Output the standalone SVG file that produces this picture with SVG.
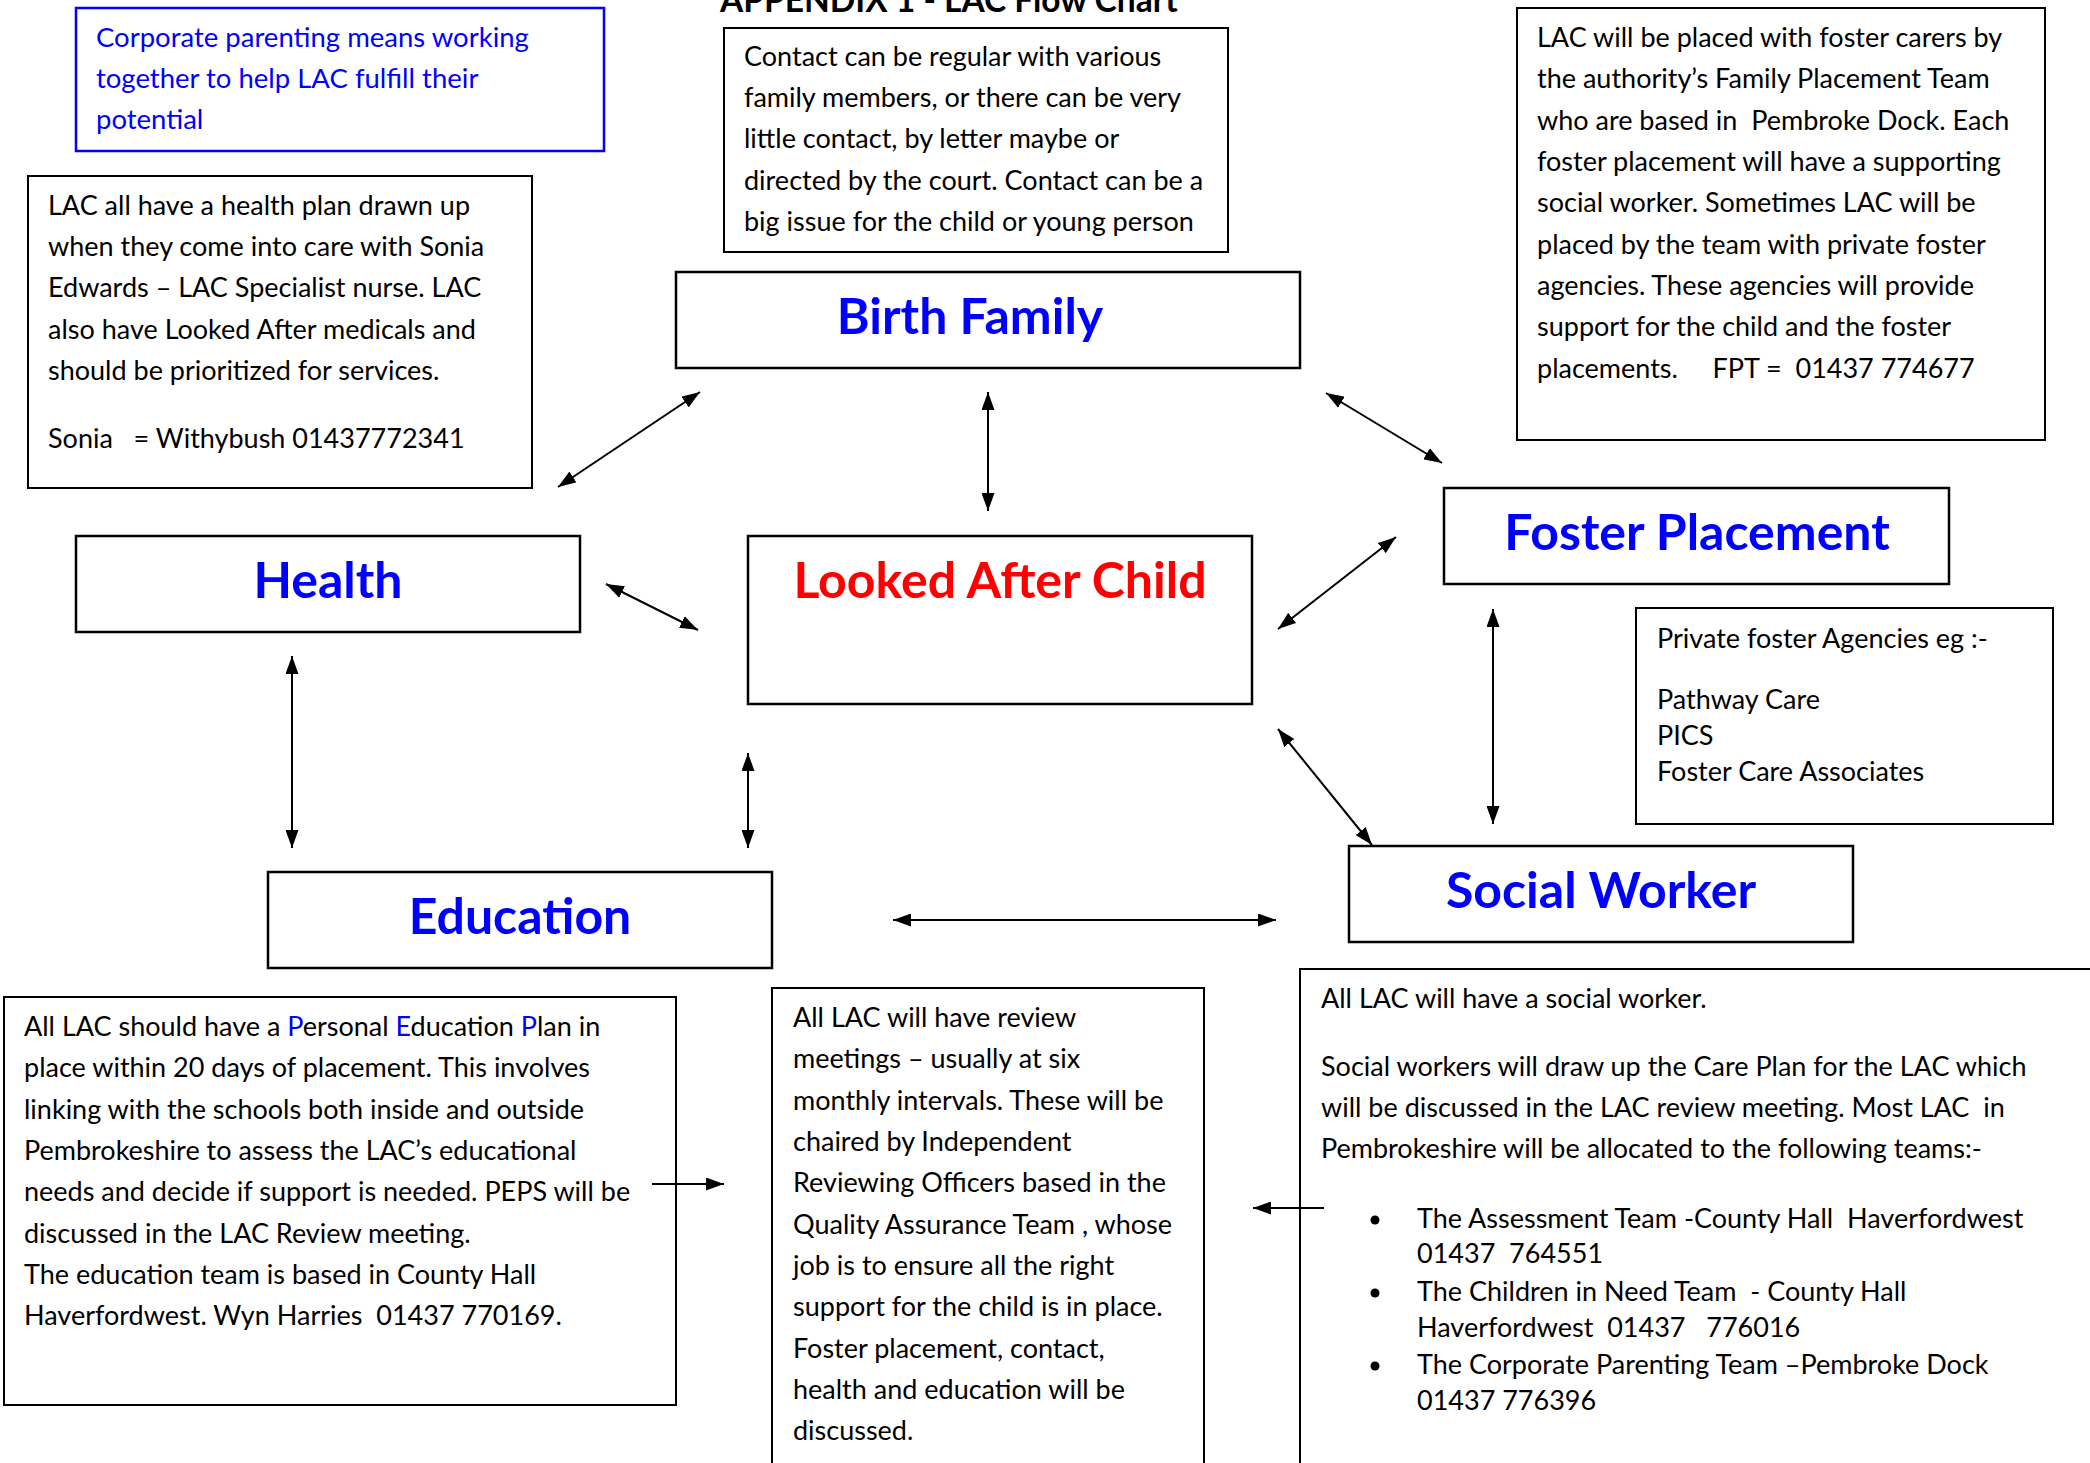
<svg xmlns="http://www.w3.org/2000/svg" width="2090" height="1463" viewBox="0 0 2090 1463">
<defs>
<style>
.box{fill:#fff;stroke:#000;stroke-width:2.5}
.tbox{fill:#fff;stroke:#000;stroke-width:2}
.bbox{fill:#fff;stroke:#0000FF;stroke-width:2.5}
.t{font-family:Lato,"Open Sans","Liberation Sans",sans-serif;font-size:27px;fill:#000}
.tb{font-family:Lato,"Open Sans","Liberation Sans",sans-serif;font-size:27.5px;fill:#0000FF}
.lbl{font-family:Lato,"Open Sans","Liberation Sans",sans-serif;font-size:50px;font-weight:bold;fill:#0000FF;text-anchor:middle}
.red{fill:#FF0000}
.title{font-family:Lato,"Open Sans","Liberation Sans",sans-serif;font-size:33.5px;font-weight:bold;fill:#000}
.con{stroke:#000;stroke-width:2;fill:none}
.blue{fill:#0000FF}
</style>
<marker id="ah" viewBox="0 0 18 13" refX="18" refY="6.5" markerWidth="18" markerHeight="13" markerUnits="userSpaceOnUse" orient="auto-start-reverse">
<path d="M0,0 L18,6.5 L0,13 Z" fill="#000"/>
</marker>
</defs>
<rect width="2090" height="1463" fill="#fff"/>

<g id="title">
<text class="title" x="720" y="12">APPENDIX 1 - LAC Flow Chart</text>
</g>

<g id="corporate-note">
<rect class="bbox" x="76" y="8" width="528" height="143"/>
<text class="tb" x="96" y="47">Corporate parenting means working</text>
<text class="tb" x="96" y="88">together to help LAC fulfill their</text>
<text class="tb" x="96" y="129">potential</text>
</g>

<g id="health-note">
<rect class="tbox" x="28" y="176" width="504" height="312"/>
<text class="t" x="48" y="215">LAC all have a health plan drawn up</text>
<text class="t" x="48" y="256">when they come into care with Sonia</text>
<text class="t" x="48" y="297">Edwards – LAC Specialist nurse. LAC</text>
<text class="t" x="48" y="339">also have Looked After medicals and</text>
<text class="t" x="48" y="380">should be prioritized for services.</text>
<text class="t" x="48" y="448" xml:space="preserve">Sonia   = Withybush 01437772341</text>
</g>

<g id="contact-note">
<rect class="tbox" x="724" y="28" width="504" height="224"/>
<text class="t" x="744" y="66">Contact can be regular with various</text>
<text class="t" x="744" y="107">family members, or there can be very</text>
<text class="t" x="744" y="148">little contact, by letter maybe or</text>
<text class="t" x="744" y="190">directed by the court. Contact can be a</text>
<text class="t" x="744" y="231">big issue for the child or young person</text>
</g>

<g id="foster-note">
<rect class="tbox" x="1517" y="8" width="528" height="432"/>
<text class="t" x="1537" y="47">LAC will be placed with foster carers by</text>
<text class="t" x="1537" y="88">the authority’s Family Placement Team</text>
<text class="t" x="1537" y="130" xml:space="preserve">who are based in  Pembroke Dock. Each</text>
<text class="t" x="1537" y="171">foster placement will have a supporting</text>
<text class="t" x="1537" y="212">social worker. Sometimes LAC will be</text>
<text class="t" x="1537" y="254">placed by the team with private foster</text>
<text class="t" x="1537" y="295">agencies. These agencies will provide</text>
<text class="t" x="1537" y="336">support for the child and the foster</text>
<text class="t" x="1537" y="378" xml:space="preserve">placements.     FPT =  01437 774677</text>
</g>

<g id="birth-family">
<rect class="box" x="676" y="272" width="624" height="96"/>
<text class="lbl" x="970" y="334">Birth Family</text>
</g>

<g id="foster-placement">
<rect class="box" x="1444" y="488" width="505" height="96"/>
<text class="lbl" x="1697" y="550">Foster Placement</text>
</g>

<g id="agencies-note">
<rect class="tbox" x="1636" y="608" width="417" height="216"/>
<text class="t" x="1657" y="648">Private foster Agencies eg :-</text>
<text class="t" x="1657" y="709">Pathway Care</text>
<text class="t" x="1657" y="745">PICS</text>
<text class="t" x="1657" y="781">Foster Care Associates</text>
</g>

<g id="health">
<rect class="box" x="76" y="536" width="504" height="96"/>
<text class="lbl" x="328" y="598">Health</text>
</g>

<g id="looked-after-child">
<rect class="box" x="748" y="536" width="504" height="168"/>
<text class="lbl red" x="1000" y="598">Looked After Child</text>
</g>

<g id="education">
<rect class="box" x="268" y="872" width="504" height="96"/>
<text class="lbl" x="520" y="934">Education</text>
</g>

<g id="social-worker">
<rect class="box" x="1349" y="846" width="504" height="96"/>
<text class="lbl" x="1601" y="908">Social Worker</text>
</g>

<g id="education-note">
<rect class="tbox" x="4" y="997" width="672" height="408"/>
<text class="t" x="24" y="1036">All LAC should have a <tspan class="blue">P</tspan>ersonal <tspan class="blue">E</tspan>ducation <tspan class="blue">P</tspan>lan in</text>
<text class="t" x="24" y="1077">place within 20 days of placement. This involves</text>
<text class="t" x="24" y="1119">linking with the schools both inside and outside</text>
<text class="t" x="24" y="1160">Pembrokeshire to assess the LAC’s educational</text>
<text class="t" x="24" y="1201">needs and decide if support is needed. PEPS will be</text>
<text class="t" x="24" y="1243">discussed in the LAC Review meeting.</text>
<text class="t" x="24" y="1284">The education team is based in County Hall</text>
<text class="t" x="24" y="1325" xml:space="preserve">Haverfordwest. Wyn Harries  01437 770169.</text>
</g>

<g id="review-note">
<rect class="tbox" x="772" y="988" width="432" height="500"/>
<text class="t" x="793" y="1027">All LAC will have review</text>
<text class="t" x="793" y="1068">meetings – usually at six</text>
<text class="t" x="793" y="1110">monthly intervals. These will be</text>
<text class="t" x="793" y="1151">chaired by Independent</text>
<text class="t" x="793" y="1192">Reviewing Officers based in the</text>
<text class="t" x="793" y="1234">Quality Assurance Team , whose</text>
<text class="t" x="793" y="1275">job is to ensure all the right</text>
<text class="t" x="793" y="1316">support for the child is in place.</text>
<text class="t" x="793" y="1358">Foster placement, contact,</text>
<text class="t" x="793" y="1399">health and education will be</text>
<text class="t" x="793" y="1440">discussed.</text>
</g>

<g id="social-note">
<rect class="tbox" x="1300" y="969" width="820" height="520"/>
<text class="t" x="1321" y="1008">All LAC will have a social worker.</text>
<text class="t" x="1321" y="1076">Social workers will draw up the Care Plan for the LAC which</text>
<text class="t" x="1321" y="1117" xml:space="preserve">will be discussed in the LAC review meeting. Most LAC  in</text>
<text class="t" x="1321" y="1158">Pembrokeshire will be allocated to the following teams:-</text>
<circle cx="1375" cy="1220" r="4.5" fill="#000"/>
<text class="t" x="1417" y="1228" xml:space="preserve">The Assessment Team -County Hall  Haverfordwest</text>
<text class="t" x="1417" y="1263" xml:space="preserve">01437  764551</text>
<circle cx="1375" cy="1293" r="4.5" fill="#000"/>
<text class="t" x="1417" y="1301" xml:space="preserve">The Children in Need Team  - County Hall</text>
<text class="t" x="1417" y="1337" xml:space="preserve">Haverfordwest  01437   776016</text>
<circle cx="1375" cy="1366" r="4.5" fill="#000"/>
<text class="t" x="1417" y="1374">The Corporate Parenting Team –Pembroke Dock</text>
<text class="t" x="1417" y="1410">01437 776396</text>
</g>

<g id="connectors">
<line class="con" x1="558" y1="487" x2="700" y2="392" marker-start="url(#ah)" marker-end="url(#ah)"/>
<line class="con" x1="988" y1="392" x2="988" y2="511" marker-start="url(#ah)" marker-end="url(#ah)"/>
<line class="con" x1="1326" y1="393" x2="1442" y2="463" marker-start="url(#ah)" marker-end="url(#ah)"/>
<line class="con" x1="606" y1="584" x2="698" y2="630" marker-start="url(#ah)" marker-end="url(#ah)"/>
<line class="con" x1="1278" y1="629" x2="1396" y2="537" marker-start="url(#ah)" marker-end="url(#ah)"/>
<line class="con" x1="292" y1="656" x2="292" y2="848" marker-start="url(#ah)" marker-end="url(#ah)"/>
<line class="con" x1="748" y1="753" x2="748" y2="848" marker-start="url(#ah)" marker-end="url(#ah)"/>
<line class="con" x1="1278" y1="729" x2="1372" y2="845" marker-start="url(#ah)" marker-end="url(#ah)"/>
<line class="con" x1="1493" y1="609" x2="1493" y2="824" marker-start="url(#ah)" marker-end="url(#ah)"/>
<line class="con" x1="893" y1="920" x2="1276" y2="920" stroke-width="2.5" marker-start="url(#ah)" marker-end="url(#ah)"/>
<line class="con" x1="652" y1="1184" x2="724" y2="1184" marker-end="url(#ah)"/>
<line class="con" x1="1324" y1="1208" x2="1253" y2="1208" marker-end="url(#ah)"/>
</g>
</svg>
